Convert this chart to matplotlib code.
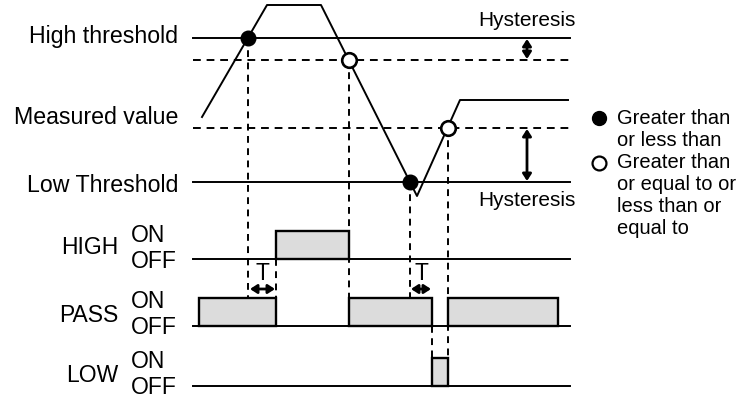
import matplotlib
matplotlib.use("Agg")
import matplotlib.pyplot as plt

plt.rcParams['font.family'] = ['Liberation Sans', 'DejaVu Sans']

# threshold levels (vertical position, top = 0)
y_high = 38
y_high_hys = 60
y_low_hys = 128
y_low = 182
x_start, x_end = 193, 570

# measured value waveform
meas_t = [202, 267, 321, 417, 460, 568]
meas_v = [117, 5, 5, 196, 100, 100]

# crossing points
solid_t = [248, 410]
solid_v = [y_high, y_low]
open_t = [349, 448]
open_v = [y_high_hys, y_low_hys]

# output channels: name, baseline, pulses (start, stop)
ch_names = ["HIGH", "PASS", "LOW"]
ch_base = [259, 326, 386]
ch_pulses = [[(276, 349)],
             [(199, 276), (349, 432), (448, 558)],
             [(432, 448)]]
pulse_h = 28

# dashed guide lines: x, y top, y bottom
guides_x = [248, 276, 349, 410, 432, 448]
guides_top = [38, 259, 60, 182, 326, 128]
guides_bot = [299, 299, 299, 299, 358, 358]

# delay T
t_arrows = [(249, 276), (410, 432)]

fig = plt.figure(figsize=(7.43, 3.99), dpi=100)
ax = fig.add_axes([0, 0, 1, 1])
ax.set_xlim(0, 743)
ax.set_ylim(399, 0)
ax.axis('off')

dash = (0, (4, 3))
lw = 1.4

# threshold lines
ax.plot([x_start, x_end], [y_high, y_high], color='k', lw=lw)
ax.plot([x_start, x_end], [y_low, y_low], color='k', lw=lw)
ax.plot([x_start, x_end], [y_high_hys, y_high_hys], color='k', lw=lw, linestyle=dash)
ax.plot([x_start, x_end], [y_low_hys, y_low_hys], color='k', lw=lw, linestyle=dash)

# guides
for gx, gt, gb in zip(guides_x, guides_top, guides_bot):
    ax.plot([gx, gx], [gt, gb], color='k', lw=lw, linestyle=(0, (3.5, 2.8)), zorder=1)

# waveform
ax.plot(meas_t, meas_v, color='k', lw=lw, zorder=3)
ax.plot(solid_t, solid_v, 'o', ms=10.5, mfc='k', mec='k', zorder=4)
ax.plot(open_t, open_v, 'o', ms=10.5, mfc='white', mec='k', mew=1.9, zorder=4)

# channels
for name, base, pulses in zip(ch_names, ch_base, ch_pulses):
    ax.plot([x_start, x_end], [base, base], color='k', lw=lw, zorder=2)
    for a, b in pulses:
        ax.bar(a, -pulse_h, width=b - a, bottom=base, align='edge',
               color='#dcdcdc', edgecolor='k', lw=1.7, zorder=3)
    ax.text(118, base - 11, name, ha='right', va='center', fontsize=16.5)
    ax.text(131, base - 24, "ON", ha='left', va='center', fontsize=16.5)
    ax.text(131, base + 2, "OFF", ha='left', va='center', fontsize=16.5)

# left labels
ax.text(178, 36, "High threshold", ha='right', va='center', fontsize=16.7)
ax.text(178, 118, "Measured value", ha='right', va='center', fontsize=16.7)
ax.text(178, 185, "Low Threshold", ha='right', va='center', fontsize=16.7)

# hysteresis arrows
arr = dict(arrowstyle='<|-|>,head_length=0.4,head_width=0.26', color='k',
           lw=2.0, shrinkA=0, shrinkB=0)
ax.annotate('', xy=(527, y_high + 1), xytext=(527, y_high_hys - 1), arrowprops=arr)
ax.annotate('', xy=(527, y_low_hys + 1), xytext=(527, y_low - 1), arrowprops=arr)
ax.text(576, 20, "Hysteresis", ha='right', va='center', fontsize=15)
ax.text(576, 200, "Hysteresis", ha='right', va='center', fontsize=15)

# T arrows
for a, b in t_arrows:
    ax.annotate('', xy=(a + 1, 289), xytext=(b - 1, 289), arrowprops=arr)
    ax.text((a + b) / 2, 274, "T", ha='center', va='center', fontsize=16.5)

# legend
ax.plot([599], [118], 'o', ms=10, mfc='k', mec='k')
ax.plot([599], [163], 'o', ms=10, mfc='white', mec='k', mew=1.6)
legend_lines = ["Greater than", "or less than", "Greater than",
                "or equal to or", "less than or", "equal to"]
legend_y = [118, 140, 163, 185, 207, 228]
for s, yy in zip(legend_lines, legend_y):
    ax.text(617, yy, s, ha='left', va='center', fontsize=14.5)

fig.savefig("out.png", dpi=100)
